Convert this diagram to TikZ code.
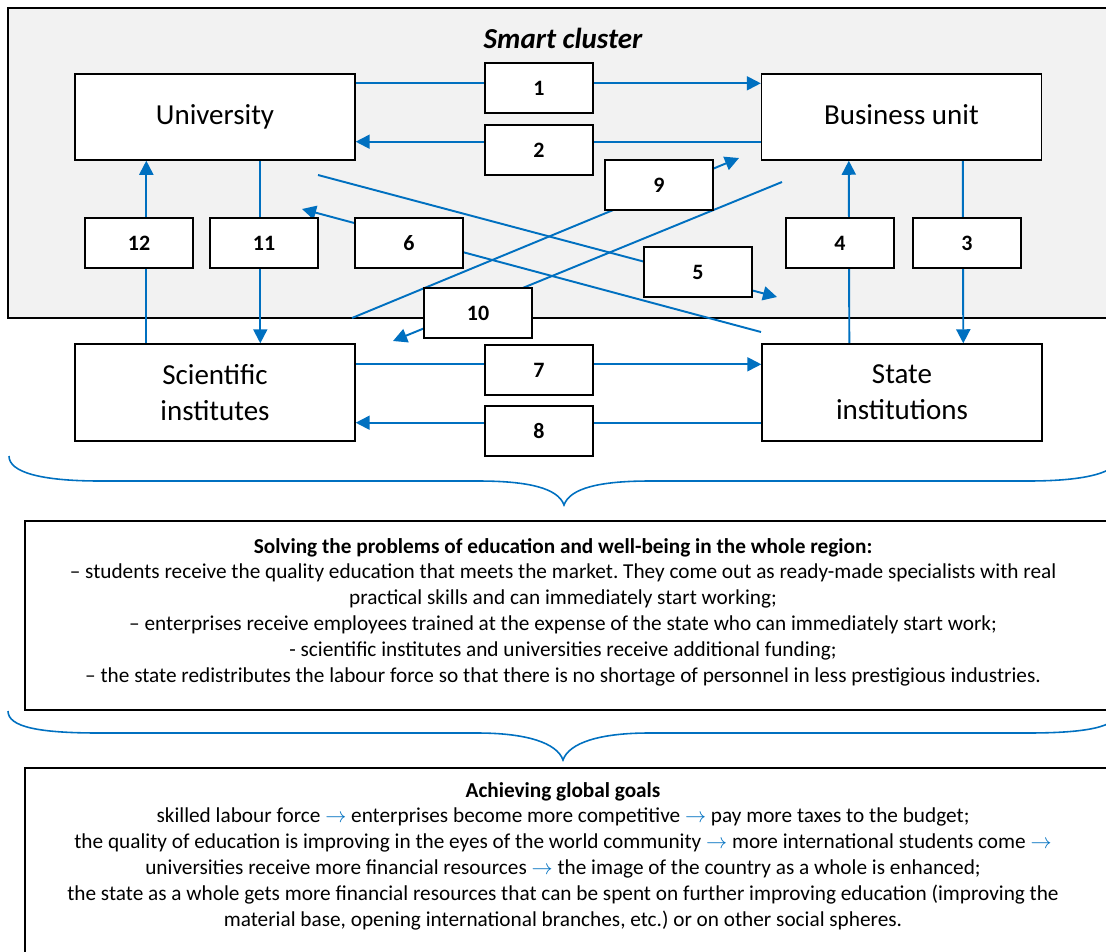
\documentclass[tikz,border=0pt]{standalone}
\usepackage{fontspec}
\setmainfont{Carlito}
\usetikzlibrary{arrows.meta}
\definecolor{LinkBlue}{RGB}{0,112,192}
\definecolor{ClusterGray}{RGB}{242,242,242}
\pgfdeclarelayer{back}
\pgfdeclarelayer{wires}
\pgfsetlayers{back,wires,main}
\newcommand{\flowto}{\textcolor{LinkBlue}{$\rightarrow$}}
\frenchspacing
\tikzset{
  actor/.style={draw, line width=0.8pt, fill=white, minimum width=5.6cm, minimum height=1.72cm, align=center, font=\fontsize{16.5}{20.5}\selectfont},
  numbox/.style={draw, line width=0.8pt, fill=white, minimum width=2.16cm, minimum height=1cm, font=\bfseries\fontsize{12.5}{14}\selectfont},
  link/.style={LinkBlue, line width=1.1pt, -{Triangle[length=8pt,width=8pt]}},
  curl/.style={LinkBlue, line width=0.9pt},
  summary/.style={align=center, inner sep=0pt, font=\fontsize{12.1}{14.7}\selectfont}
}

\begin{document}
\begin{tikzpicture}[x=0.02cm, y=-0.02cm]
  \useasboundingbox (0,0) rectangle (1106,951);

  % smart cluster frame
  \begin{pgfonlayer}{back}
    \draw[line width=0.8pt, fill=ClusterGray] (8,8) rectangle (1114,318);
  \end{pgfonlayer}
  \node[font=\bfseries\itshape\fontsize{16.5}{20}\selectfont] (title) at (563,38) {Smart cluster};

  % participants
  \node[actor] (univ) at (215,117) {\raisebox{2.3pt}{University}};
  \node[actor] (biz) at (901.5,117) {\raisebox{2.3pt}{Business unit}};
  \node[actor, minimum height=1.94cm] (sci) at (215,392.5) {Scientific\\institutes};
  \node[actor, minimum height=1.94cm] (state) at (902,392.5) {State\\institutions};

  % numbered links
  \node[numbox] (n1) at (539,88) {1};
  \node[numbox] (n2) at (539,150) {2};
  \node[numbox] (n3) at (967,243) {3};
  \node[numbox] (n4) at (840,243) {4};
  \node[numbox] (n5) at (698,272) {5};
  \node[numbox] (n6) at (409,243) {6};
  \node[numbox] (n7) at (539,370) {7};
  \node[numbox] (n8) at (539,431) {8};
  \node[numbox] (n9) at (659,185) {9};
  \node[numbox] (n10) at (478,313) {10};
  \node[numbox] (n11) at (264,243) {11};
  \node[numbox] (n12) at (139,243) {12};

  % free ends of the crossing links
  \coordinate (f5) at (318,175);
  \coordinate (t5) at (777,297);
  \coordinate (f6) at (761,332);
  \coordinate (t6) at (302,209);
  \coordinate (f9) at (352,318);
  \coordinate (t9) at (739,158);
  \coordinate (f10) at (782,182);
  \coordinate (t10) at (393,341);

  \begin{pgfonlayer}{wires}
    \draw[link] ([yshift=-0.2cm]univ.north east) -- ([yshift=-0.2cm]biz.north west);
    \draw[link] ([yshift=0.38cm]biz.south west) -- ([yshift=0.38cm]univ.south east);
    \draw[link] ([xshift=4.04cm]biz.south west) -- ([xshift=4.04cm]state.north west);
    \draw[link] ([xshift=1.76cm]state.north west) -- ([xshift=1.76cm]biz.south west);
    \draw[link] ([yshift=-0.42cm]sci.north east) -- ([yshift=-0.42cm]state.north west);
    \draw[link] ([yshift=0.38cm]state.south west) -- ([yshift=0.38cm]sci.south east);
    \draw[link] ([xshift=3.72cm]univ.south west) -- ([xshift=3.72cm]sci.north west);
    \draw[link] ([xshift=1.44cm]sci.north west) -- ([xshift=1.44cm]univ.south west);
    \draw[link] (f5) -- (t5);
    \draw[link] (f6) -- (t6);
    \draw[link] (f9) -- (t9);
    \draw[link] (f10) -- (t10);
  \end{pgfonlayer}

  % braces
  \draw[curl] (9,456) .. controls (9,472) and (40,481) .. (100,481) -- (478,481)
    .. controls (528,481) and (558,488) .. (564,505)
    .. controls (570,488) and (600,481) .. (650,481) -- (1028,481)
    .. controls (1088,481) and (1119,472) .. (1119,456);
  \draw[curl] (8,711) .. controls (8,727) and (39,733) .. (99,733) -- (477,733)
    .. controls (527,733) and (557,743) .. (563,760)
    .. controls (569,743) and (599,733) .. (649,733) -- (1027,733)
    .. controls (1087,733) and (1118,727) .. (1118,711);

  % results
  \draw[line width=0.9pt] (25,521) rectangle (1114,710);
  \node[summary] (solve) at (563,612) {\textbf{Solving the problems of education and well-being in the whole region:}\\
    – students receive the quality education that meets the market. They come out as ready-made specialists with real\\
    practical skills and can immediately start working;\\
    – enterprises receive employees trained at the expense of the state who can immediately start work;\\
    - scientific institutes and universities receive additional funding;\\
    – the state redistributes the labour force so that there is no shortage of personnel in less prestigious industries.};

  \draw[line width=0.9pt] (25,768) rectangle (1114,960);
  \node[summary] (goals) at (563,856) {\textbf{Achieving global goals}\\
    skilled labour force \flowto{} enterprises become more competitive \flowto{} pay more taxes to the budget;\\
    the quality of education is improving in the eyes of the world community \flowto{} more international students come \flowto\\
    universities receive more financial resources \flowto{} the image of the country as a whole is enhanced;\\
    the state as a whole gets more financial resources that can be spent on further improving education (improving the\\
    material base, opening international branches, etc.) or on other social spheres.};
\end{tikzpicture}
\end{document}
